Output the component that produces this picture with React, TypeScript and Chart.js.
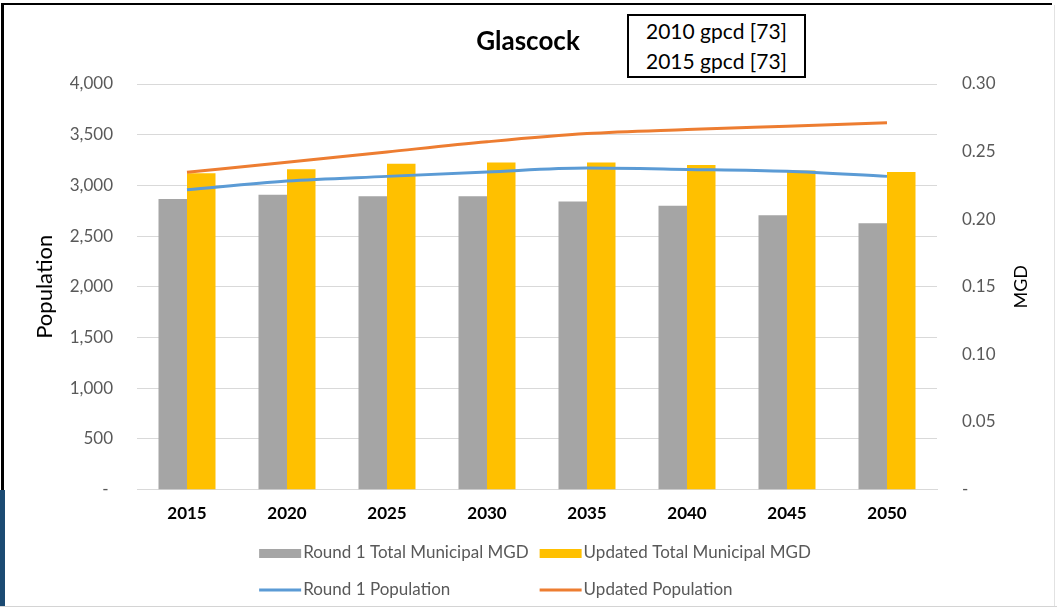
import React, { useEffect, useRef } from 'react';
import { Chart, registerables } from 'chart.js';

Chart.register(...registerables);

const chartTitle = 'Glascock';
const gpcdNotes = ['2010 gpcd [73]', '2015 gpcd [73]'];
const years = ['2015', '2020', '2025', '2030', '2035', '2040', '2045', '2050'];
const round1MGD = [0.215, 0.218, 0.217, 0.217, 0.213, 0.21, 0.203, 0.197];
const updatedMGD = [0.234, 0.237, 0.241, 0.242, 0.242, 0.24, 0.236, 0.235];
const round1Pop = [2957, 3043, 3089, 3132, 3171, 3158, 3139, 3089];
const updatedPop = [3129, 3228, 3330, 3430, 3511, 3551, 3584, 3617];
const popAxisTitle = 'Population';
const mgdAxisTitle = 'MGD';
const seriesNames = [
  'Round 1 Total Municipal MGD',
  'Updated Total Municipal MGD',
  'Round 1 Population',
  'Updated Population',
];

const FONT = 'Lato, "Open Sans", sans-serif';

const legendAndTitlePlugin = {
  id: 'customLegendAndTitle',
  afterDraw(chart: any) {
    const ctx = chart.ctx as CanvasRenderingContext2D;
    const ds = chart.data.datasets;
    ctx.save();
    // chart title
    ctx.font = `bold 26px ${FONT}`;
    ctx.fillStyle = '#000';
    ctx.textAlign = 'center';
    ctx.textBaseline = 'middle';
    ctx.fillText(chartTitle, 528, 42);

    // right axis title, reading bottom to top
    const area = chart.chartArea;
    ctx.font = `18px ${FONT}`;
    ctx.translate(1021, (area.top + area.bottom) / 2);
    ctx.rotate(-Math.PI / 2);
    ctx.fillText(mgdAxisTitle, 0, 0);
    ctx.setTransform(1, 0, 0, 1, 0, 0);

    // legend
    ctx.font = `17px ${FONT}`;
    ctx.textAlign = 'left';
    ctx.textBaseline = 'middle';
    const sw = 42;
    const gapText = 2;
    const gapItem = 11;
    const w0 = Math.max(ctx.measureText(ds[0].label).width, ctx.measureText(ds[2].label).width);
    const w1 = Math.max(ctx.measureText(ds[1].label).width, ctx.measureText(ds[3].label).width);
    const total = sw + gapText + w0 + gapItem + sw + gapText + w1;
    const x0 = 535 - total / 2;
    const x1 = x0 + sw + gapText + w0 + gapItem;
    const rows = [553, 590];
    const cells = [
      { d: ds[0], x: x0, y: rows[0], bar: true },
      { d: ds[1], x: x1, y: rows[0], bar: true },
      { d: ds[2], x: x0, y: rows[1], bar: false },
      { d: ds[3], x: x1, y: rows[1], bar: false },
    ];
    for (const c of cells) {
      if (c.bar) {
        ctx.fillStyle = c.d.backgroundColor;
        ctx.fillRect(c.x, c.y - 4, sw, 9);
      } else {
        ctx.strokeStyle = c.d.borderColor;
        ctx.lineWidth = 3;
        ctx.beginPath();
        ctx.moveTo(c.x, c.y);
        ctx.lineTo(c.x + sw, c.y);
        ctx.stroke();
      }
      ctx.fillStyle = '#595959';
      ctx.fillText(c.d.label, c.x + sw + gapText, c.y);
    }
    ctx.restore();
  },
};

export default function App() {
  const ref = useRef<HTMLCanvasElement | null>(null);

  useEffect(() => {
    if (!ref.current) return;
    const chart = new Chart(ref.current, {
      type: 'bar',
      data: {
        labels: years,
        datasets: [
          {
            type: 'bar',
            label: seriesNames[0],
            data: round1MGD,
            backgroundColor: '#a5a5a5',
            yAxisID: 'yMGD',
            categoryPercentage: 0.57,
            barPercentage: 1.0,
            order: 2,
          },
          {
            type: 'bar',
            label: seriesNames[1],
            data: updatedMGD,
            backgroundColor: '#ffc000',
            yAxisID: 'yMGD',
            categoryPercentage: 0.57,
            barPercentage: 1.0,
            order: 2,
          },
          {
            type: 'line',
            label: seriesNames[2],
            data: round1Pop,
            borderColor: '#5b9bd5',
            backgroundColor: '#5b9bd5',
            borderWidth: 3,
            pointRadius: 0,
            cubicInterpolationMode: 'monotone',
            yAxisID: 'yPop',
            order: 1,
          },
          {
            type: 'line',
            label: seriesNames[3],
            data: updatedPop,
            borderColor: '#ed7d31',
            backgroundColor: '#ed7d31',
            borderWidth: 3,
            pointRadius: 0,
            cubicInterpolationMode: 'monotone',
            yAxisID: 'yPop',
            order: 0,
          },
        ] as any,
      },
      options: {
        responsive: false,
        animation: false,
        devicePixelRatio: 1,
        layout: { padding: { left: 32, right: 0, top: 84, bottom: 76 } },
        plugins: {
          legend: { display: false },
          tooltip: { enabled: false },
          title: { display: false },
        },
        scales: {
          x: {
            grid: { display: false, drawTicks: false },
            border: { display: true, color: '#d9d9d9', width: 1 },
            ticks: {
              font: { family: FONT, size: 17, weight: 'bold' },
              color: '#000',
              padding: 14,
            },
          },
          yPop: {
            position: 'left',
            min: 0,
            max: 4000,
            ticks: {
              stepSize: 500,
              font: { family: FONT, size: 17 },
              color: '#595959',
              padding: 24,
              callback: (v: any) => (Number(v) === 0 ? '- ' : Number(v).toLocaleString('en-US')),
            },
            grid: { color: '#d9d9d9', drawTicks: false },
            border: { display: false },
            title: {
              display: true,
              text: popAxisTitle,
              font: { family: FONT, size: 22 },
              color: '#000',
              padding: { top: 0, bottom: 0 },
            },
            afterFit: (s: any) => {
              s.width = 105;
            },
          },
          yMGD: {
            position: 'right',
            min: 0,
            max: 0.3,
            ticks: {
              stepSize: 0.05,
              font: { family: FONT, size: 17 },
              color: '#595959',
              padding: 25,
              callback: (v: any) => (Number(v) === 0 ? '-' : Number(v).toFixed(2)),
            },
            grid: { display: false, drawTicks: false },
            border: { display: false },
            afterFit: (s: any) => {
              s.width = 120;
            },
          },
        },
      } as any,
      plugins: [legendAndTitlePlugin],
    });
    return () => chart.destroy();
  }, []);

  const line = (style: React.CSSProperties) => (
    <div style={{ position: 'absolute', ...style }} />
  );

  return (
    <div
      style={{
        position: 'absolute',
        left: 0,
        top: 0,
        width: 1057,
        height: 614,
        background: '#fff',
        overflow: 'hidden',
      }}
    >
      <canvas ref={ref} width={1057} height={614} style={{ position: 'absolute', left: 0, top: 0 }} />
      {line({ left: 2, top: 3, width: 1050, height: 2, background: '#000' })}
      {line({ left: 1, top: 3, width: 3, height: 487, background: '#000' })}
      {line({ left: 0, top: 490, width: 5, height: 116, background: '#1b4a72' })}
      {line({ left: 0, top: 606, width: 1057, height: 1, background: '#d4d4d4' })}
      {line({ left: 1054, top: 5, width: 1, height: 601, background: '#e2e2e2' })}
      <div
        style={{
          position: 'absolute',
          left: 627,
          top: 14,
          width: 179,
          height: 64,
          boxSizing: 'border-box',
          border: '2px solid #000',
          background: '#fff',
          fontFamily: FONT,
          fontSize: 21,
          lineHeight: '30px',
          textAlign: 'center',
          color: '#000',
        }}
      >
        {gpcdNotes.map((t) => (
          <div key={t}>{t}</div>
        ))}
      </div>
    </div>
  );
}
